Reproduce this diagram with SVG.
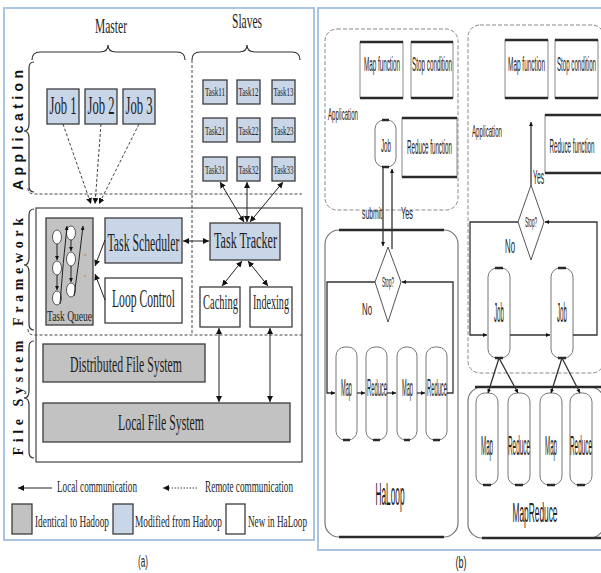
<svg xmlns="http://www.w3.org/2000/svg" width="601" height="573" viewBox="0 0 601 573">
<style>
.panel{fill:#fff;stroke:#a9c5e4;stroke-width:2}
.srf{font-family:"Liberation Serif","Times New Roman",serif;fill:#1e1e1e;text-anchor:middle}
.srfs{font-family:"Liberation Serif","Times New Roman",serif;fill:#1e1e1e}
.sns{font-family:"Liberation Sans",Arial,sans-serif;fill:#222;text-anchor:middle}
.snss{font-family:"Liberation Sans",Arial,sans-serif;fill:#222}
.lab{font-family:"Liberation Serif","Times New Roman",serif;font-weight:bold;fill:#111;text-anchor:middle}
.labs{font-family:"Liberation Sans",Arial,sans-serif;font-weight:bold;fill:#111;text-anchor:middle}
.blue{fill:#c8d6e8;stroke:#3c3c3c;stroke-width:1.3}
.grey{fill:#c2c2c2;stroke:#3c3c3c;stroke-width:1.3}
.white{fill:#fff;stroke:#3c3c3c;stroke-width:1.3}
.ln{fill:none;stroke:#222;stroke-width:1}
.dash{fill:none;stroke:#444;stroke-width:1;stroke-dasharray:3 2}
.dot{fill:none;stroke:#444;stroke-width:1;stroke-dasharray:1.5 1.5}
.brace{fill:none;stroke:#333;stroke-width:1.2}
.box{fill:#fff;stroke:#888;stroke-width:1}
.edge{stroke:#2a2a2a;stroke-width:2.5}
.pill{fill:#fff;stroke:#777;stroke-width:1}
.fl{fill:none;stroke:#333;stroke-width:1.3}
.appbox{fill:none;stroke:#888;stroke-width:1;stroke-dasharray:4 2}
.frame{fill:none;stroke:#777;stroke-width:1.2}
.q{fill:#fff;stroke:#333;stroke-width:0.8}
</style>
<defs>
<marker id="ah" viewBox="0 0 6 6" refX="6" refY="3" markerWidth="6" markerHeight="6" markerUnits="userSpaceOnUse" orient="auto-start-reverse"><path d="M0,0 L6,3 L0,6 z" fill="#111"/></marker>
<marker id="sm" viewBox="0 0 6 6" refX="6" refY="3" markerWidth="4" markerHeight="4" markerUnits="userSpaceOnUse" orient="auto-start-reverse"><path d="M0,0 L6,3 L0,6 z" fill="#111"/></marker>
</defs>

<!-- panel frames -->
<rect class="panel" x="4" y="8" width="310" height="532"/>
<rect class="panel" x="318" y="8" width="286" height="542"/>

<!-- ===== (a) HaLoop architecture ===== -->
<g id="layers">
  <rect x="36" y="208" width="266" height="254" fill="none" stroke="#444" stroke-width="1.2"/>
  <path class="dash" d="M28,188 Q28,194 34,194 L302,194"/>
  <path class="dash" d="M28,329 Q28,335 34,335 L302,335"/>
  <line class="dash" x1="192" y1="60" x2="192" y2="334"/>
  <path class="brace" d="M32,60 Q32,52 40,52 L100,52 Q108,52 108,45 Q108,52 116,52 L177,52 Q185,52 185,60"/>
  <path class="brace" d="M192,60 Q192,52 200,52 L239,52 Q247,52 247,45 Q247,52 255,52 L292,52 Q300,52 300,60"/>
  <path class="brace" d="M34,62 Q29,62 29,68 L29,124 Q29,131 24,131 Q29,131 29,138 L29,186 Q29,192 34,192"/>
  <path class="brace" d="M34,209 Q29,209 29,215 L29,258 Q29,265 24,265 Q29,265 29,272 L29,324 Q29,330 34,330"/>
  <path class="brace" d="M34,341 Q29,341 29,347 L29,391 Q29,398 24,398 Q29,398 29,405 L29,452 Q29,458 34,458"/>
  <text class="labs" font-size="14" textLength="120" transform="translate(23,130) rotate(-90)">Application</text>
  <text class="lab" font-size="14" textLength="108" transform="translate(23,272) rotate(-90)">Framework</text>
  <text class="lab" font-size="14" textLength="115" transform="translate(23,398) rotate(-90)">File System</text>
  <text class="srf" font-size="22" x="111" y="33" textLength="32" lengthAdjust="spacingAndGlyphs">Master</text>
  <text class="srf" font-size="22" x="247" y="28" textLength="30" lengthAdjust="spacingAndGlyphs">Slaves</text>
</g>

<g id="job1"><rect class="blue" x="47" y="89" width="32" height="35"/><text class="srf" font-size="25" x="63" y="114" textLength="27" lengthAdjust="spacingAndGlyphs">Job 1</text></g>
<g id="job2"><rect class="blue" x="85" y="89" width="32" height="35"/><text class="srf" font-size="25" x="101" y="114" textLength="27" lengthAdjust="spacingAndGlyphs">Job 2</text></g>
<g id="job3"><rect class="blue" x="123" y="89" width="32" height="35"/><text class="srf" font-size="25" x="139" y="114" textLength="27" lengthAdjust="spacingAndGlyphs">Job 3</text></g>

<g id="tasks">
  <g id="task11"><rect class="blue" x="203" y="80" width="24" height="24"/><text class="srf" font-size="13" x="215" y="96" textLength="20" lengthAdjust="spacingAndGlyphs">Task11</text></g>
  <g id="task12"><rect class="blue" x="237" y="80" width="23" height="24"/><text class="srf" font-size="13" x="248.5" y="96" textLength="20" lengthAdjust="spacingAndGlyphs">Task12</text></g>
  <g id="task13"><rect class="blue" x="272" y="80" width="23" height="24"/><text class="srf" font-size="13" x="283.5" y="96" textLength="20" lengthAdjust="spacingAndGlyphs">Task13</text></g>
  <g id="task21"><rect class="blue" x="203" y="118" width="24" height="24"/><text class="srf" font-size="13" x="215" y="135" textLength="20" lengthAdjust="spacingAndGlyphs">Task21</text></g>
  <g id="task22"><rect class="blue" x="237" y="118" width="23" height="24"/><text class="srf" font-size="13" x="248.5" y="135" textLength="20" lengthAdjust="spacingAndGlyphs">Task22</text></g>
  <g id="task23"><rect class="blue" x="272" y="118" width="23" height="24"/><text class="srf" font-size="13" x="283.5" y="135" textLength="20" lengthAdjust="spacingAndGlyphs">Task23</text></g>
  <g id="task31"><rect class="blue" x="203" y="157" width="24" height="24"/><text class="srf" font-size="13" x="215" y="174" textLength="20" lengthAdjust="spacingAndGlyphs">Task31</text></g>
  <g id="task32"><rect class="blue" x="237" y="157" width="23" height="24"/><text class="srf" font-size="13" x="248.5" y="174" textLength="20" lengthAdjust="spacingAndGlyphs">Task32</text></g>
  <g id="task33"><rect class="blue" x="272" y="157" width="23" height="24"/><text class="srf" font-size="13" x="283.5" y="174" textLength="20" lengthAdjust="spacingAndGlyphs">Task33</text></g>
</g>

<g id="task-queue">
  <rect class="grey" x="46" y="218" width="47" height="107"/>
  <ellipse class="q" cx="57" cy="237" rx="4.5" ry="7"/>
  <ellipse class="q" cx="57" cy="268" rx="4.5" ry="7"/>
  <ellipse class="q" cx="57" cy="298" rx="4.5" ry="7"/>
  <ellipse class="q" cx="71" cy="233" rx="4.5" ry="7"/>
  <ellipse class="q" cx="71" cy="259" rx="4.5" ry="7"/>
  <ellipse class="q" cx="71" cy="290" rx="4.5" ry="7"/>
  <line class="ln" x1="57" y1="244" x2="57" y2="260" marker-end="url(#sm)"/>
  <line class="ln" x1="57" y1="275" x2="57" y2="290" marker-end="url(#sm)"/>
  <line class="ln" x1="71" y1="240" x2="71" y2="251" marker-end="url(#sm)"/>
  <line class="ln" x1="71" y1="266" x2="71" y2="282" marker-end="url(#sm)"/>
  <path class="ln" d="M60,304 Q63,262 67,226" marker-end="url(#sm)"/>
  <path class="ln" d="M74,296 Q79,262 83,226" marker-end="url(#sm)"/>
  <circle cx="85" cy="255" r="1" fill="#c9905a"/>
  <circle cx="85" cy="276" r="1" fill="#c9905a"/>
  <text class="srf" font-size="15" x="69.5" y="321" textLength="45" lengthAdjust="spacingAndGlyphs">Task Queue</text>
</g>

<g id="task-scheduler"><rect class="blue" x="105" y="218" width="77" height="45"/><text class="srf" font-size="26" x="143.5" y="251" textLength="72" lengthAdjust="spacingAndGlyphs">Task Scheduler</text></g>
<g id="loop-control"><rect class="white" x="105" y="278" width="77" height="45"/><text class="srf" font-size="26" x="143.5" y="307" textLength="63" lengthAdjust="spacingAndGlyphs">Loop Control</text></g>
<g id="task-tracker"><rect class="blue" x="210" y="223" width="70" height="37"/><text class="srf" font-size="24" x="245.5" y="248" textLength="63" lengthAdjust="spacingAndGlyphs">Task Tracker</text></g>
<g id="caching"><rect class="white" x="200" y="287" width="40" height="40"/><text class="srf" font-size="21" x="220.5" y="309" textLength="35" lengthAdjust="spacingAndGlyphs">Caching</text></g>
<g id="indexing"><rect class="white" x="250" y="287" width="42" height="40"/><text class="srf" font-size="21" x="271" y="309" textLength="36" lengthAdjust="spacingAndGlyphs">Indexing</text></g>
<g id="dfs"><rect class="grey" x="43" y="344" width="162" height="38"/><text class="srf" font-size="24" x="126" y="372" textLength="112" lengthAdjust="spacingAndGlyphs">Distributed File System</text></g>
<g id="lfs"><rect class="grey" x="43" y="403" width="247" height="39"/><text class="srf" font-size="24" x="161" y="430" textLength="86" lengthAdjust="spacingAndGlyphs">Local File System</text></g>

<g id="connectors-a">
  <line class="dash" x1="63" y1="124" x2="91" y2="204" marker-end="url(#ah)"/>
  <line class="dash" x1="101" y1="124" x2="95" y2="204" marker-end="url(#ah)"/>
  <line class="dash" x1="139" y1="124" x2="99" y2="204" marker-end="url(#ah)"/>
  <line class="ln" x1="105" y1="240" x2="95" y2="266" marker-end="url(#ah)"/>
  <line class="ln" x1="105" y1="300" x2="95" y2="274" marker-end="url(#ah)"/>
  <line class="ln" x1="183" y1="241" x2="209" y2="241" marker-start="url(#ah)" marker-end="url(#ah)"/>
  <line class="ln" x1="220" y1="182" x2="244" y2="222" marker-start="url(#ah)" marker-end="url(#ah)"/>
  <line class="ln" x1="247" y1="182" x2="247" y2="222" marker-start="url(#ah)" marker-end="url(#ah)"/>
  <line class="ln" x1="283" y1="182" x2="250" y2="222" marker-start="url(#ah)" marker-end="url(#ah)"/>
  <line class="ln" x1="242" y1="261" x2="222" y2="286" marker-start="url(#ah)" marker-end="url(#ah)"/>
  <line class="ln" x1="248" y1="261" x2="268" y2="286" marker-start="url(#ah)" marker-end="url(#ah)"/>
  <line class="ln" x1="219" y1="328" x2="219" y2="402" marker-start="url(#ah)" marker-end="url(#ah)"/>
  <line class="ln" x1="270" y1="328" x2="270" y2="402" marker-start="url(#ah)" marker-end="url(#ah)"/>
</g>

<g id="legend">
  <line class="ln" x1="52" y1="488" x2="18" y2="488" marker-end="url(#ah)"/>
  <text class="srfs" font-size="16" x="57" y="492" textLength="80" lengthAdjust="spacingAndGlyphs">Local communication</text>
  <line class="dot" x1="197" y1="488" x2="163" y2="488" marker-end="url(#ah)"/>
  <text class="srfs" font-size="16" x="205" y="492" textLength="88" lengthAdjust="spacingAndGlyphs">Remote communication</text>
  <rect class="grey" x="12" y="504" width="20" height="30"/>
  <text class="srfs" font-size="16" x="35" y="527" textLength="74" lengthAdjust="spacingAndGlyphs">Identical to Hadoop</text>
  <rect class="blue" x="113" y="504" width="20" height="30"/>
  <text class="srfs" font-size="16" x="135" y="527" textLength="87" lengthAdjust="spacingAndGlyphs">Modified from Hadoop</text>
  <rect class="white" x="226" y="504" width="19" height="30"/>
  <text class="srfs" font-size="16" x="248" y="527" textLength="59" lengthAdjust="spacingAndGlyphs">New in HaLoop</text>
</g>
<text class="sns" font-size="16" x="143" y="567" textLength="10" lengthAdjust="spacingAndGlyphs">(a)</text>

<!-- ===== (b) HaLoop vs MapReduce ===== -->
<g id="haloop">
  <rect class="appbox" x="325" y="29" width="133" height="181" rx="12"/>
  <text class="snss" font-size="16" x="328" y="120" textLength="30" lengthAdjust="spacingAndGlyphs">Application</text>
  <g id="h-map-fn"><rect class="box" x="360" y="42" width="43" height="56"/><line class="edge" x1="360" y1="42" x2="403" y2="42"/><line class="edge" x1="360" y1="98" x2="403" y2="98"/><text class="sns" font-size="20" x="382" y="71" textLength="36" lengthAdjust="spacingAndGlyphs">Map function</text></g>
  <g id="h-stop"><rect class="box" x="411" y="42" width="42" height="56"/><line class="edge" x1="411" y1="42" x2="453" y2="42"/><line class="edge" x1="411" y1="98" x2="453" y2="98"/><text class="sns" font-size="20" x="432" y="71" textLength="40" lengthAdjust="spacingAndGlyphs">Stop condition</text></g>
  <g id="h-reduce-fn"><rect class="box" x="402" y="118" width="55" height="59"/><line class="edge" x1="402" y1="118" x2="457" y2="118"/><line class="edge" x1="402" y1="177" x2="457" y2="177"/><text class="sns" font-size="20" x="429.5" y="154" textLength="45" lengthAdjust="spacingAndGlyphs">Reduce function</text></g>
  <g id="h-job"><rect class="pill" x="375" y="120" width="21" height="47" rx="9"/><line class="edge" x1="382" y1="120" x2="389" y2="120" stroke-width="2"/><line class="edge" x1="382" y1="167" x2="389" y2="167" stroke-width="2"/><text class="sns" font-size="18" x="386" y="152" textLength="10" lengthAdjust="spacingAndGlyphs">Job</text></g>
  <g id="h-stop-q"><path d="M388,247 L401,282 L388,322 L375,282 Z" fill="#fff" stroke="#555" stroke-width="1"/><text class="sns" font-size="14" x="388" y="287" textLength="12" lengthAdjust="spacingAndGlyphs">Stop?</text></g>
  <rect class="frame" x="325" y="230" width="133" height="307" rx="14"/>
  <line class="edge" x1="339" y1="230" x2="444" y2="230"/>
  <line class="edge" x1="339" y1="537" x2="444" y2="537"/>
  <g id="h-map1"><rect class="pill" x="336" y="347" width="21" height="93" rx="9"/><line class="edge" x1="343" y1="440" x2="350" y2="440" stroke-width="2"/><text class="sns" font-size="24" x="346.5" y="396" textLength="11" lengthAdjust="spacingAndGlyphs">Map</text></g>
  <g id="h-reduce1"><rect class="pill" x="366" y="347" width="21" height="93" rx="9"/><line class="edge" x1="373" y1="440" x2="380" y2="440" stroke-width="2"/><text class="sns" font-size="24" x="377" y="396" textLength="20" lengthAdjust="spacingAndGlyphs">Reduce</text></g>
  <g id="h-map2"><rect class="pill" x="397" y="347" width="20" height="93" rx="9"/><line class="edge" x1="404" y1="440" x2="410" y2="440" stroke-width="2"/><text class="sns" font-size="24" x="407.5" y="396" textLength="11" lengthAdjust="spacingAndGlyphs">Map</text></g>
  <g id="h-reduce2"><rect class="pill" x="426" y="347" width="21" height="93" rx="9"/><line class="edge" x1="433" y1="440" x2="440" y2="440" stroke-width="2"/><text class="sns" font-size="24" x="437" y="396" textLength="20" lengthAdjust="spacingAndGlyphs">Reduce</text></g>
  <text class="sns" font-size="32" x="390" y="505" textLength="29" lengthAdjust="spacingAndGlyphs">HaLoop</text>
  <text class="snss" font-size="16" x="362" y="219" textLength="20" lengthAdjust="spacingAndGlyphs">submit</text>
  <text class="snss" font-size="16" x="401" y="219" textLength="12" lengthAdjust="spacingAndGlyphs">Yes</text>
  <text class="snss" font-size="17" x="362" y="315" textLength="10" lengthAdjust="spacingAndGlyphs">No</text>
</g>

<g id="mapreduce">
  <rect class="appbox" x="468" y="25" width="136" height="348" rx="12"/>
  <text class="snss" font-size="16" x="472" y="137" textLength="30" lengthAdjust="spacingAndGlyphs">Application</text>
  <g id="m-map-fn"><rect class="box" x="505" y="40" width="43" height="58"/><line class="edge" x1="505" y1="40" x2="548" y2="40"/><line class="edge" x1="505" y1="98" x2="548" y2="98"/><text class="sns" font-size="20" x="526.5" y="71" textLength="37" lengthAdjust="spacingAndGlyphs">Map function</text></g>
  <g id="m-stop"><rect class="box" x="555" y="40" width="43" height="58"/><line class="edge" x1="555" y1="40" x2="598" y2="40"/><line class="edge" x1="555" y1="98" x2="598" y2="98"/><text class="sns" font-size="20" x="576.5" y="71" textLength="39" lengthAdjust="spacingAndGlyphs">Stop condition</text></g>
  <g id="m-reduce-fn"><rect class="box" x="545" y="115" width="58" height="58"/><line class="edge" x1="545" y1="115" x2="603" y2="115"/><line class="edge" x1="545" y1="173" x2="603" y2="173"/><text class="sns" font-size="20" x="572" y="153" textLength="45" lengthAdjust="spacingAndGlyphs">Reduce function</text></g>
  <g id="m-stop-q"><path d="M531,185 L544,222 L531,260 L518,222 Z" fill="#fff" stroke="#555" stroke-width="1"/><text class="sns" font-size="14" x="531" y="227" textLength="12" lengthAdjust="spacingAndGlyphs">Stop?</text></g>
  <g id="m-job1"><rect class="pill" x="488" y="268" width="22" height="90" rx="9"/><line class="edge" x1="495" y1="268" x2="503" y2="268" stroke-width="2"/><line class="edge" x1="495" y1="358" x2="503" y2="358" stroke-width="2"/><text class="sns" font-size="28" x="499" y="322" textLength="10" lengthAdjust="spacingAndGlyphs">Job</text></g>
  <g id="m-job2"><rect class="pill" x="551" y="268" width="22" height="90" rx="9"/><line class="edge" x1="558" y1="268" x2="566" y2="268" stroke-width="2"/><line class="edge" x1="558" y1="358" x2="566" y2="358" stroke-width="2"/><text class="sns" font-size="28" x="562" y="322" textLength="10" lengthAdjust="spacingAndGlyphs">Job</text></g>
  <rect class="frame" x="468" y="387" width="136" height="151" rx="14"/>
  <line class="edge" x1="475" y1="387" x2="603" y2="387"/>
  <line class="edge" x1="482" y1="538" x2="603" y2="538"/>
  <g id="m-map1"><rect class="pill" x="476" y="393" width="22" height="92" rx="9"/><line class="edge" x1="483" y1="485" x2="491" y2="485" stroke-width="2"/><text class="sns" font-size="28" x="487" y="455" textLength="12" lengthAdjust="spacingAndGlyphs">Map</text></g>
  <g id="m-reduce1"><rect class="pill" x="508" y="393" width="22" height="92" rx="9"/><line class="edge" x1="515" y1="485" x2="523" y2="485" stroke-width="2"/><text class="sns" font-size="28" x="519" y="455" textLength="22" lengthAdjust="spacingAndGlyphs">Reduce</text></g>
  <g id="m-map2"><rect class="pill" x="540" y="393" width="22" height="92" rx="9"/><line class="edge" x1="547" y1="485" x2="555" y2="485" stroke-width="2"/><text class="sns" font-size="28" x="551" y="455" textLength="12" lengthAdjust="spacingAndGlyphs">Map</text></g>
  <g id="m-reduce2"><rect class="pill" x="570" y="393" width="22" height="92" rx="9"/><line class="edge" x1="577" y1="485" x2="585" y2="485" stroke-width="2"/><text class="sns" font-size="28" x="581" y="455" textLength="22" lengthAdjust="spacingAndGlyphs">Reduce</text></g>
  <text class="sns" font-size="28" x="535" y="522" textLength="45" lengthAdjust="spacingAndGlyphs">MapReduce</text>
  <text class="snss" font-size="20" x="533" y="184" textLength="11" lengthAdjust="spacingAndGlyphs">Yes</text>
  <text class="snss" font-size="20" x="505" y="253" textLength="10" lengthAdjust="spacingAndGlyphs">No</text>
</g>

<g id="connectors-b">
  <line class="fl" x1="383" y1="168" x2="383" y2="246" marker-end="url(#sm)"/>
  <line class="fl" x1="392" y1="249" x2="392" y2="169" marker-end="url(#sm)"/>
  <polyline class="fl" points="375,282 327,282 327,393 335,393" marker-end="url(#sm)"/>
  <line class="fl" x1="357" y1="393" x2="365" y2="393" marker-end="url(#sm)"/>
  <line class="fl" x1="387" y1="393" x2="396" y2="393" marker-end="url(#sm)"/>
  <line class="fl" x1="417" y1="393" x2="425" y2="393" marker-end="url(#sm)"/>
  <polyline class="fl" points="447,393 453,393 453,282 402,282" marker-end="url(#sm)"/>

  <line class="fl" x1="531" y1="185" x2="531" y2="122" marker-end="url(#sm)"/>
  <polyline class="fl" points="518,222 470,222 470,335 487,335" marker-end="url(#sm)"/>
  <line class="fl" x1="510" y1="335" x2="550" y2="335" marker-end="url(#sm)"/>
  <polyline class="fl" points="573,335 597,335 597,222 545,222" marker-end="url(#sm)"/>
  <line class="fl" x1="499" y1="358" x2="488" y2="393" marker-end="url(#sm)"/>
  <line class="fl" x1="499" y1="358" x2="518" y2="393" marker-end="url(#sm)"/>
  <line class="fl" x1="562" y1="358" x2="551" y2="393" marker-end="url(#sm)"/>
  <line class="fl" x1="562" y1="358" x2="580" y2="393" marker-end="url(#sm)"/>
</g>
<text class="sns" font-size="16" x="461" y="568" textLength="11" lengthAdjust="spacingAndGlyphs">(b)</text>
</svg>
